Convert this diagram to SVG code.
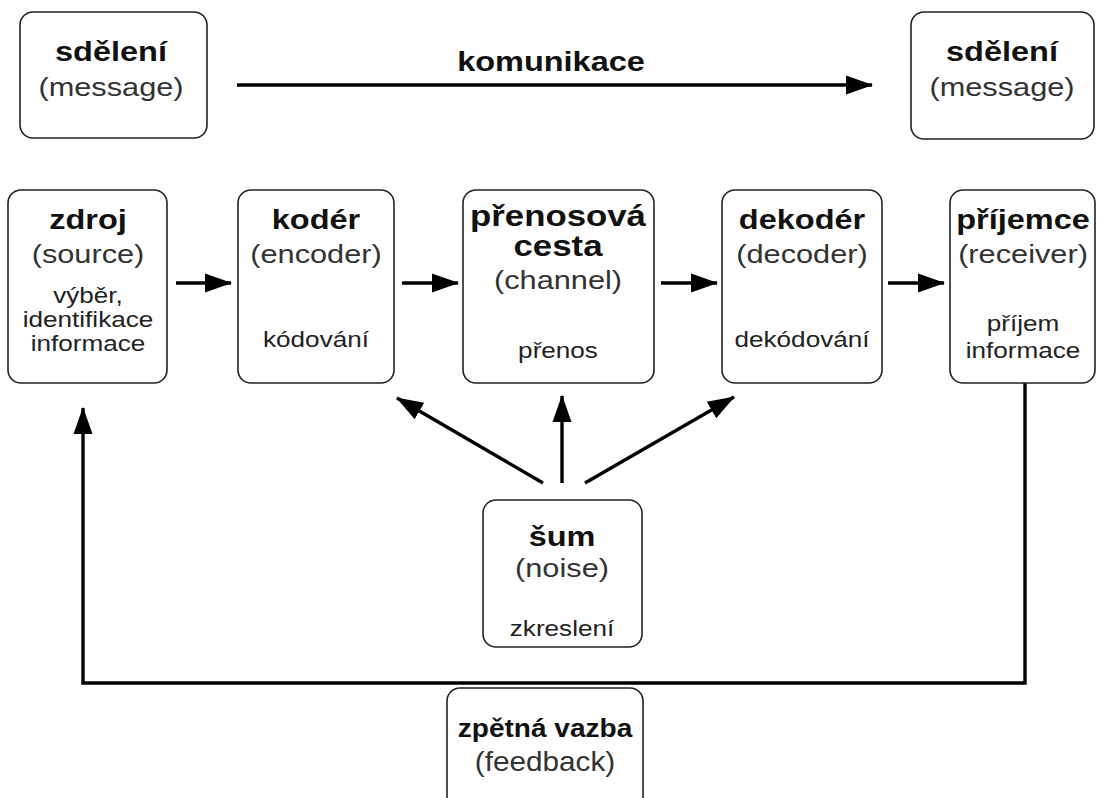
<svg xmlns="http://www.w3.org/2000/svg" width="1098" height="798" viewBox="0 0 1098 798">
<defs>
<style>
.box{fill:#fff;stroke:#222;stroke-width:1.6}
.t{font-family:"Liberation Sans",Arial,sans-serif;text-anchor:middle}
.b{font-weight:bold;font-size:28px;fill:#111}
.bb{font-weight:bold;font-size:30px;fill:#111}
.bf{font-weight:bold;font-size:25.5px;fill:#111}
.r{font-size:26.5px;fill:#333}
.rf{font-size:27px;fill:#333}
.s{font-size:22.5px;fill:#222}
.c{stroke:#000;stroke-width:3.4;fill:none}
</style>
<marker id="ah" markerUnits="userSpaceOnUse" markerWidth="28" markerHeight="22" refX="26" refY="11" orient="auto">
<path d="M0,1.5 L27,11 L0,20.5 Z" fill="#000"/>
</marker>
</defs>
<rect width="1098" height="798" fill="#fff"/>

<g id="connectors">
<line class="c" x1="237" y1="85" x2="872" y2="85" marker-end="url(#ah)"/>
<line class="c" x1="176" y1="283" x2="231" y2="283" marker-end="url(#ah)"/>
<line class="c" x1="402" y1="283" x2="458" y2="283" marker-end="url(#ah)"/>
<line class="c" x1="661" y1="283" x2="717" y2="283" marker-end="url(#ah)"/>
<line class="c" x1="888" y1="283" x2="944" y2="283" marker-end="url(#ah)"/>
<line class="c" x1="543" y1="483" x2="397" y2="398" marker-end="url(#ah)"/>
<line class="c" x1="562" y1="483" x2="562" y2="396" marker-end="url(#ah)"/>
<line class="c" x1="585" y1="483" x2="734" y2="397" marker-end="url(#ah)"/>
<polyline class="c" points="1025,383 1025,683 83,683 83,408" marker-end="url(#ah)"/>
<g transform="translate(551,0) scale(1.16,1)">
<text class="t b" x="0" y="71">komunikace</text>
</g>
</g>

<g id="msg-left">
<rect class="box" x="20" y="12" width="187" height="126" rx="13"/>
<g transform="translate(111,0) scale(1.16,1)">
<text class="t b" x="0" y="61">sdělení</text>
<text class="t r" x="0" y="96">(message)</text>
</g>
</g>

<g id="msg-right">
<rect class="box" x="911" y="12" width="183" height="127" rx="13"/>
<g transform="translate(1002,0) scale(1.16,1)">
<text class="t b" x="0" y="61">sdělení</text>
<text class="t r" x="0" y="96">(message)</text>
</g>
</g>

<g id="zdroj">
<rect class="box" x="8" y="190" width="159" height="193" rx="13"/>
<g transform="translate(88,0) scale(1.16,1)">
<text class="t b" x="0" y="229">zdroj</text>
<text class="t r" x="0" y="263">(source)</text>
<text class="t s" x="0" y="303">výběr,</text>
<text class="t s" x="0" y="327">identifikace</text>
<text class="t s" x="0" y="351">informace</text>
</g>
</g>

<g id="koder">
<rect class="box" x="238" y="190" width="156" height="193" rx="13"/>
<g transform="translate(316,0) scale(1.16,1)">
<text class="t b" x="0" y="229">kodér</text>
<text class="t r" x="0" y="263">(encoder)</text>
<text class="t s" x="0" y="347">kódování</text>
</g>
</g>

<g id="prenosova-cesta">
<rect class="box" x="463" y="190" width="191" height="193" rx="13"/>
<g transform="translate(558,0) scale(1.16,1)">
<text class="t bb" x="0" y="226">přenosová</text>
<text class="t bb" x="0" y="256">cesta</text>
<text class="t r" x="0" y="289">(channel)</text>
<text class="t s" x="0" y="358">přenos</text>
</g>
</g>

<g id="dekoder">
<rect class="box" x="722" y="190" width="160" height="193" rx="13"/>
<g transform="translate(802,0) scale(1.16,1)">
<text class="t b" x="0" y="229">dekodér</text>
<text class="t r" x="0" y="263">(decoder)</text>
<text class="t s" x="0" y="347">dekódování</text>
</g>
</g>

<g id="prijemce">
<rect class="box" x="950" y="190" width="145" height="193" rx="13"/>
<g transform="translate(1023,0) scale(1.16,1)">
<text class="t b" x="0" y="229">příjemce</text>
<text class="t r" x="0" y="263">(receiver)</text>
<text class="t s" x="0" y="331">příjem</text>
<text class="t s" x="0" y="358">informace</text>
</g>
</g>

<g id="sum">
<rect class="box" x="483" y="500" width="159" height="147" rx="13"/>
<g transform="translate(562,0) scale(1.16,1)">
<text class="t b" x="0" y="546">šum</text>
<text class="t r" x="0" y="577">(noise)</text>
<text class="t s" x="0" y="636">zkreslení</text>
</g>
</g>

<g id="zpetna-vazba">
<rect class="box" x="447" y="688" width="196" height="125" rx="13"/>
<g transform="translate(545,0) scale(1.1,1)">
<text class="t bf" x="0" y="737">zpětná vazba</text>
<text class="t rf" x="0" y="771">(feedback)</text>
</g>
</g>
</svg>
